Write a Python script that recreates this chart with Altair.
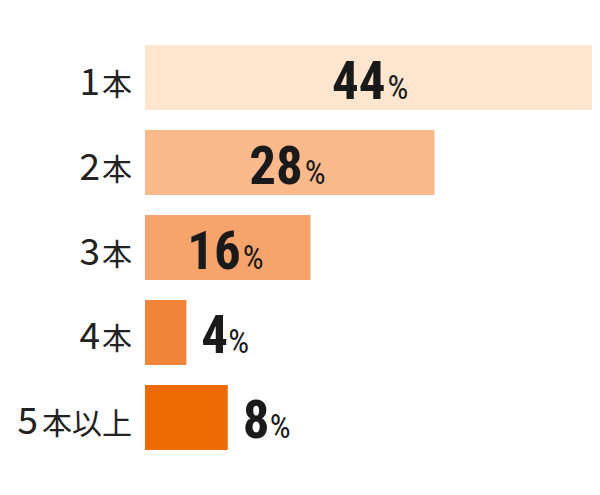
import altair as alt
import pandas as pd

categories = ["1本", "2本", "3本", "4本", "5本以上"]
values = [44, 28, 16, 4, 8]
colors = ["#FDE5D0", "#F9B98B", "#F6A36C", "#F08439", "#EC6B05"]

df = pd.DataFrame({
    "cat": categories,
    "value": values,
    "digit": [c[0] for c in categories],
    "suffix": [c[1:] for c in categories],
})

W, H = 584, 425
PX = 10.34  # pixels per unit
LEFT = 137  # pixels left of zero
DOMAIN = [-LEFT / PX, (W - LEFT) / PX]

xs = alt.Scale(domain=DOMAIN, nice=False, zero=False)
ys = alt.Scale(domain=categories, paddingInner=0.235, paddingOuter=0.1176)

base = alt.Chart(df).encode(
    y=alt.Y("cat:N", scale=ys, axis=None, sort=categories)
)

bars = base.mark_bar(clip=True).encode(
    x=alt.X("value:Q", scale=xs, axis=None),
    x2=alt.datum(0),
    color=alt.Color("cat:N", scale=alt.Scale(domain=categories, range=colors), legend=None),
)

font_num = "Roboto Condensed, Liberation Sans Narrow, Roboto, sans-serif"
font_cat = "Noto Sans CJK JP, sans-serif"

suffix_txt = base.mark_text(align="right", baseline="alphabetic", dy=17,
                            fontSize=30, font=font_cat, color="#222222").encode(
    x=alt.X("sx:Q", scale=xs, axis=None),
    text="suffix:N",
).transform_calculate(sx=f"-13/{PX}")

digit_txt = base.mark_text(align="right", baseline="alphabetic", dy=17,
                           fontSize=37, font=font_cat, color="#222222").encode(
    x=alt.X("dx_:Q", scale=xs, axis=None),
    text="digit:N",
).transform_calculate(dx_=f"-(14 + 31*length(datum.suffix))/{PX}")

inside = base.transform_filter("datum.value > 10").transform_calculate(mx="datum.value/2")
outside = base.transform_filter("datum.value <= 10")

NUM = dict(baseline="alphabetic", dy=21, fontSize=53, fontWeight="bold",
           font=font_num, color="#1a1a1a")
PCT = dict(baseline="alphabetic", dy=21, fontSize=33, font=font_num, color="#1a1a1a")

in_num = inside.mark_text(align="right", dx=13, **NUM).encode(
    x=alt.X("mx:Q", scale=xs, axis=None),
    text="value:Q",
)
in_pct = inside.mark_text(align="left", dx=15, **PCT).encode(
    x=alt.X("mx:Q", scale=xs, axis=None),
    text=alt.value("%"),
)
out_num = outside.mark_text(align="left", dx=15, **NUM).encode(
    x=alt.X("value:Q", scale=xs, axis=None),
    text="value:Q",
)
out_pct = outside.mark_text(align="left", dx=42, **PCT).encode(
    x=alt.X("value:Q", scale=xs, axis=None),
    text=alt.value("%"),
)

chart = alt.layer(bars, suffix_txt, digit_txt, in_num, in_pct, out_num, out_pct).properties(
    width=W, height=H,
    padding={"top": 27, "left": 0, "right": 0, "bottom": 0},
    autosize=alt.AutoSizeParams(type="none"),
    background="white",
).configure_view(stroke=None)

chart.save("out.html", embed_options={"renderer": "svg", "actions": False})
